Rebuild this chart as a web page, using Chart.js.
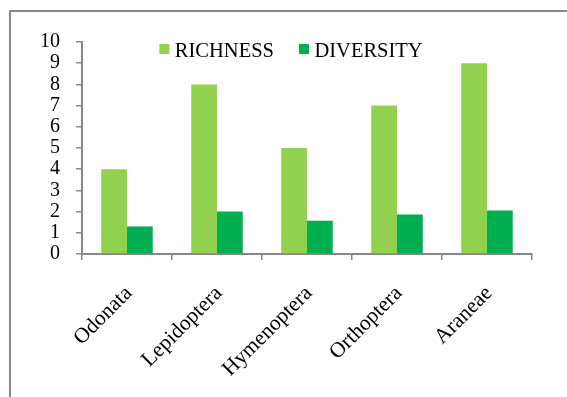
<!DOCTYPE html>
<html>
<head>
<meta charset="utf-8">
<script src="https://cdn.jsdelivr.net/npm/chart.js@4.4.1/dist/chart.umd.min.js"></script>
<style>
  body { margin: 0; background: #fff; overflow: hidden; }
  #wrap { position: relative; width: 567px; height: 397px; }
  #frame { position: absolute; left: 9px; top: 10px; width: 640px; height: 440px;
           border-left: 2px solid #898989; border-top: 2px solid #898989; }
</style>
</head>
<body>
<div id="wrap">
  <div id="frame"></div>
  <canvas id="myChart" width="567" height="397"></canvas>
</div>
<script>
const categories = ['Odonata', 'Lepidoptera', 'Hymenoptera', 'Orthoptera', 'Araneae'];
const richness = [4, 8, 5, 7, 9];
const diversity = [1.3, 2.01, 1.57, 1.86, 2.05];
const yTicks = [0, 1, 2, 3, 4, 5, 6, 7, 8, 9, 10];

const FONT = 'Liberation Serif';
const AXIS = '#878787';

// legend drawn on top of the plot, like the original
const topLegend = {
    id: 'topLegend',
    afterDraw(chart) {
        const ctx = chart.ctx;
        ctx.save();
        ctx.font = '20.5px "' + FONT + '"';
        const box = 10, gapText = 5.5, gapItem = 25;
        const sets = chart.data.datasets;
        let total = 0;
        sets.forEach((ds, i) => {
            total += box + gapText + ctx.measureText(ds.label).width;
            if (i < sets.length - 1) total += gapItem;
        });
        let x = 291 - total / 2;
        sets.forEach(ds => {
            ctx.fillStyle = ds.backgroundColor;
            ctx.fillRect(x, 44, box, box);
            ctx.fillStyle = '#000';
            ctx.textBaseline = 'alphabetic';
            ctx.fillText(ds.label, x + box + gapText, 57);
            x += box + gapText + ctx.measureText(ds.label).width + gapItem;
        });
        ctx.restore();
    }
};

new Chart(document.getElementById('myChart'), {
    type: 'bar',
    data: {
        labels: categories,
        datasets: [
            { label: 'RICHNESS', data: richness, backgroundColor: '#92D050',
              categoryPercentage: 0.572, barPercentage: 1.0 },
            { label: 'DIVERSITY', data: diversity, backgroundColor: '#00B050',
              categoryPercentage: 0.572, barPercentage: 1.0 }
        ]
    },
    options: {
        responsive: false,
        animation: false,
        layout: { padding: { top: 42, right: 35, left: 0, bottom: 0 } },
        plugins: {
            legend: { display: false },
            tooltip: { enabled: false }
        },
        scales: {
            x: {
                afterFit: s => { s.height = 143; },
                grid: { drawOnChartArea: false, drawTicks: true, tickLength: 6, color: AXIS, lineWidth: 1.5 },
                border: { color: AXIS, width: 2 },
                ticks: {
                    color: '#000', font: { family: FONT, size: 21.5 },
                    minRotation: 45, maxRotation: 45, autoSkip: false, padding: 21, labelOffset: 2
                }
            },
            y: {
                min: 0, max: 10,
                afterFit: s => { s.width = 82; },
                afterBuildTicks: s => { s.ticks = yTicks.map(v => ({ value: v })); },
                grid: { drawOnChartArea: false, drawTicks: true, tickLength: 6, color: AXIS, lineWidth: 1.5 },
                border: { color: AXIS, width: 2 },
                ticks: { color: '#000', font: { family: FONT, size: 20 }, padding: 16, autoSkip: false, stepSize: 1 }
            }
        }
    },
    plugins: [topLegend]
});
</script>
</body>
</html>
